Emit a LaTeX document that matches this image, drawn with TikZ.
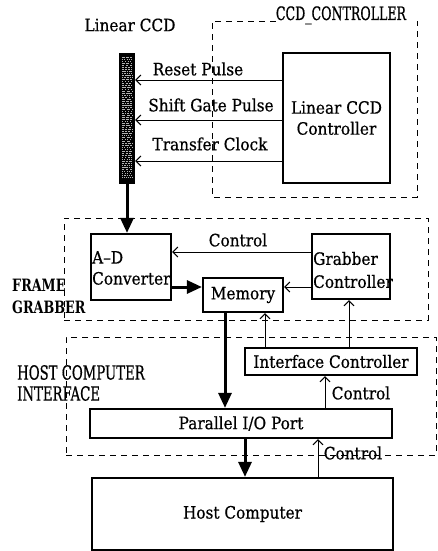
\documentclass[tikz,border=0pt]{standalone}
\usepackage{fontspec}
\setmainfont{DejaVu Serif}[FakeBold=0.6, FakeStretch=0.9]
\newfontfamily\grpfont{DejaVu Serif}[FakeBold=0.6, FakeStretch=0.68]
\newfontfamily\grpbold{DejaVu Serif Bold}[FakeStretch=0.75]
\usetikzlibrary{arrows.meta}
\begin{document}
\begin{tikzpicture}[x=1pt,y=-1pt,
  box/.style={draw, line width=2.2pt, inner sep=0pt},
  group/.style={draw, line width=0.9pt, dash pattern=on 6pt off 5pt},
  sig/.style={line width=0.8pt, -{Straight Barb[length=5pt,width=10pt,line width=1pt]}},
  bus/.style={line width=3pt, -{Triangle[length=15pt,width=13pt]}},
  txt/.style={font=\fontsize{17}{21}\selectfont, inner sep=0pt},
  grp/.style={font=\grpfont\fontsize{19.5}{21}\selectfont, inner sep=0pt, align=left},
]
\useasboundingbox (0,0) rectangle (438,551);

% group frames
\node[grp, anchor=base, font=\grpfont\fontsize{18.5}{21}\selectfont] (cctitle) at (341,20) {CCD\_CONTROLLER};
\draw[group] (cctitle.west |- 0,21) -| (212,197) -| (417,21);
\node[group, inner sep=0pt, minimum width=364, minimum height=102] (fgframe) at (246,269) {};
\node[group, inner sep=0pt, minimum width=370, minimum height=118] (hiframe) at (251,396) {};

% group captions
\node[txt] (ccdlabel) at (130,25) {Linear CCD};
\node[grp, anchor=west, font=\grpbold\fontsize{17}{22}\selectfont] (fglabel) at (12,296) {FRAME\\GRABBER};
\node[grp, anchor=west] (hilabel) at (17,383) {HOST COMPUTER\\INTERFACE};

% linear CCD sensor strip
\node[fill=black, inner sep=0pt, minimum width=16, minimum height=131] (ccd) at (127,118.5) {};
\pgfmathsetseed{7}
\foreach \k in {0,...,60} {
  \pgfmathsetmacro\yy{57+2*\k}
  \pgfmathsetmacro\aa{0.6+3*rnd}
  \pgfmathsetmacro\bb{0.5+1.5*rnd}
  \draw[white!70!black, line width=0.7pt, dash pattern=on \aa pt off \bb pt] (122,\yy) -- (132,\yy);
}

% blocks
\node[box, minimum width=107, minimum height=130, align=center, txt] (lcc) at (336.5,118) {Linear CCD\\Controller};
\node[box, minimum width=80, minimum height=66] (adc) at (131,267) {};
\node[txt, anchor=west, align=left] (adctext) at (92,268) {A–D\\Converter};
\node[box, minimum width=78, minimum height=65] (gc) at (351,266.5) {};
\node[txt, anchor=west, align=left, font=\fontsize{17}{23}\selectfont] (gctext) at (313,270) {Grabber\\Controller};
\node[box, minimum width=80, minimum height=34, txt] (mem) at (243,295) {Memory};
\node[box, minimum width=172, minimum height=27, txt] (ic) at (331,361.5) {Interface Controller};
\node[box, minimum width=302, minimum height=29, txt] (pio) at (241,423.5) {Parallel I/O Port};
\node[box, minimum width=301, minimum height=72, txt] (host) at (242.5,514) {Host Computer};

% CCD drive signals
\draw[sig] (lcc.west |- 0,80) -- (ccd.east |- 0,80);
\draw[sig] (lcc.west |- 0,120) -- (ccd.east |- 0,120);
\draw[sig] (lcc.west |- 0,161) -- (ccd.east |- 0,161);
\node[txt] (rp) at (198,69) {Reset Pulse};
\node[txt] (sgp) at (211,105) {Shift Gate Pulse};
\node[txt] (tc) at (210,144) {Transfer Clock};

% data path
\draw[bus] (ccd.south) -- (adc.north -| ccd.south);
\draw[bus] (adc.east |- 0,287) -- (mem.west |- 0,287);
\draw[bus] (mem.south -| 225,0) -- (pio.north -| 225,0);
\draw[bus] (pio.south -| 245,0) -- (host.north -| 245,0);

% control lines
\draw[sig] (gc.west |- 0,252) -- (adc.east |- 0,252);
\node[txt] (ctl1) at (238,240) {Control};
\draw[sig] (gc.west |- 0,287) -- (mem.east |- 0,287);
\draw[sig] (ic.north -| 265,0) -- (mem.south -| 265,0);
\draw[sig] (ic.north -| 349,0) -- (gc.south -| 349,0);
\draw[sig] (pio.north -| 325,0) -- (ic.south -| 325,0);
\node[txt] (ctl2) at (361,393) {Control};
\draw[sig] (host.north -| 318,0) -- (pio.south -| 318,0);
\node[txt] (ctl3) at (353,453) {Control};
\end{tikzpicture}
\end{document}
